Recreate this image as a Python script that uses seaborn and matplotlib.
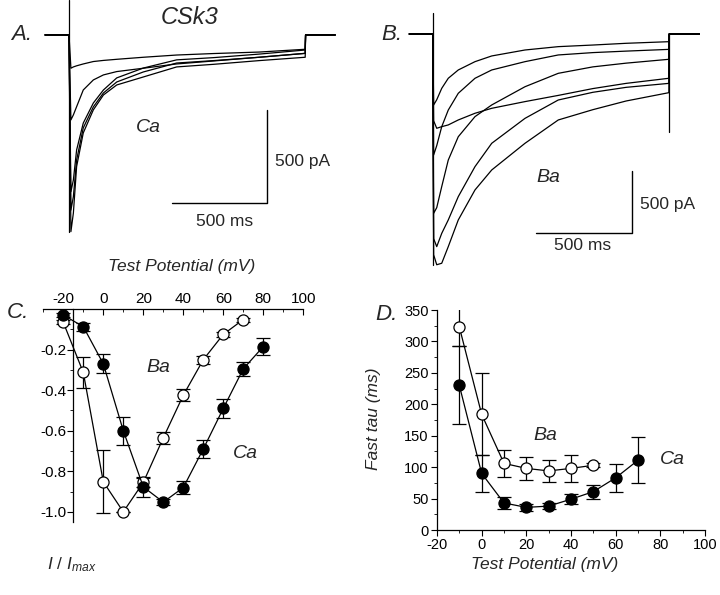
import numpy as np
import matplotlib
matplotlib.use('Agg')
import matplotlib.pyplot as plt
import seaborn as sns
from matplotlib.ticker import MultipleLocator

sns.set_style('white')
plt.rcParams['font.family'] = ['Liberation Sans', 'DejaVu Sans']
plt.rcParams['mathtext.fontset'] = 'custom'
plt.rcParams['mathtext.it'] = 'Liberation Sans:italic'
plt.rcParams['mathtext.rm'] = 'Liberation Sans'
plt.rcParams['axes.unicode_minus'] = False

ca_t = [0, 10, 23, 40, 75, 128, 181, 251, 391, 566, 760, 1000, 1242]
ca_traces = [
    [0, -179, -172, -166, -156, -143, -137, -131, -120, -108, -100, -92, -77],
    [0, -457, -430, -386, -296, -242, -215, -197, -179, -156, -140, -120, -99],
    [0, -843, -780, -619, -474, -366, -296, -231, -178, -134, -122, -103, -81],
    [0, -942, -870, -673, -500, -387, -312, -253, -199, -151, -138, -120, -99],
    [0, -1058, -958, -708, -527, -403, -323, -269, -226, -172, -158, -138, -120],
]
ca_start, ca_stop = -126, 1400
ca_spike = 188

ba_t = [0, 5, 21, 47, 81, 133, 220, 307, 480, 653, 833, 1006, 1228]
ba_traces = [
    [0, -572, -530, -438, -357, -290, -223, -177, -129, -102, -89, -75, -62],
    [0, -975, -900, -747, -613, -478, -357, -290, -223, -169, -150, -138, -124],
    [0, -1445, -1400, -1230, -1016, -828, -666, -572, -425, -317, -265, -235, -204],
    [0, -700, -760, -747, -733, -693, -639, -599, -545, -495, -440, -398, -357],
    [0, -1650, -1714, -1607, -1499, -1311, -1069, -881, -680, -532, -470, -430, -398],
    [0, -1780, -1860, -1848, -1714, -1499, -1257, -1096, -881, -693, -610, -540, -473],
]
ba_start, ba_stop = -122, 1387
ba_spike = 166
ba_tail = -787

# --- datos: curva I-V ---
v_ca_iv = [-20, -10, 0, 10, 20, 30, 40, 50, 60, 70, 80]
ca_iv = [-0.03, -0.087, -0.27, -0.60, -0.877, -0.952, -0.88, -0.69, -0.49, -0.295, -0.185]
ca_iv_err = [0.01, 0.02, 0.047, 0.068, 0.05, 0.015, 0.033, 0.045, 0.045, 0.033, 0.04]
v_ba_iv = [-20, -10, 0, 10, 20, 30, 40, 50, 60, 70]
ba_iv = [-0.066, -0.313, -0.852, -1.0, -0.855, -0.635, -0.425, -0.25, -0.125, -0.052]
ba_iv_err = [0.01, 0.077, 0.155, 0.0, 0.02, 0.03, 0.03, 0.02, 0.012, 0.01]

# --- datos: tau rapida ---
v_ca_tau = [-10, 0, 10, 20, 30, 40, 50, 60, 70]
ca_tau = [230, 90, 43, 36, 38, 49, 61, 83, 111]
ca_tau_err = [62, 30, 9, 5, 5, 8, 11, 22, 37]
v_ba_tau = [-10, 0, 10, 20, 30, 40, 50]
ba_tau = [323, 184, 106, 98, 94, 98, 103]
ba_tau_err = [30, 65, 21, 18, 18, 21, 3]

W, H = 720, 595
fig = plt.figure(figsize=(W / 100, H / 100), dpi=100)


def px_axes(left, top, right, bottom):
    return fig.add_axes([left / W, 1 - bottom / H, (right - left) / W, (bottom - top) / H])


def ftext(x, y, s, **kw):
    fig.text(x / W, 1 - y / H, s, **kw)


def draw_traces(ax, t, traces, t0, t1, spike, tail=None):
    for tr in traces:
        x = [t0] + t + [t[-1] + 2, t1]
        y = [0] + tr + [0, 0]
        sns.lineplot(x=x, y=y, ax=ax, sort=False, estimator=None, color='k', lw=0.9)
    low = min(min(tr) for tr in traces)
    sns.lineplot(x=[0, 0], y=[spike, low], ax=ax, sort=False, estimator=None, color='k', lw=0.9)
    if tail is not None:
        sns.lineplot(x=[t[-1], t[-1]], y=[0, tail], ax=ax, sort=False, estimator=None, color='k', lw=0.9)
    ax.set_axis_off()


def scale_bar(ax, x_end, y_bot):
    ax.plot([x_end - 500, x_end, x_end], [y_bot, y_bot, y_bot + 500], color='k', lw=1)


# A. Ca
axA = px_axes(40, 0, 340, 240)
draw_traces(axA, ca_t, ca_traces, ca_start, ca_stop, ca_spike)
axA.set_xlim(-152.5, 1425)
axA.set_ylim(-1103, 188)
scale_bar(axA, 1041, -904)
ftext(22, 35, 'A.', fontsize=16, style='italic', ha='center', va='center')
ftext(190, 17, 'CSk3', fontsize=17, style='italic', ha='center', va='center')
ftext(148, 127, 'Ca', fontsize=14, style='italic', ha='center', va='center')
ftext(275, 162, '500 pA', fontsize=12.5, ha='left', va='center')
ftext(225, 222, '500 ms', fontsize=12.5, ha='center', va='center')

# B. Ba
axB = px_axes(400, 0, 705, 280)
draw_traces(axB, ba_t, ba_traces, ba_start, ba_stop, ba_spike, ba_tail)
axB.set_xlim(-170, 1416)
axB.set_ylim(-1983, 274)
scale_bar(axB, 1035, -1606)
ftext(392, 34, 'B.', fontsize=16, style='italic', ha='center', va='center')
ftext(548, 178, 'Ba', fontsize=14, style='italic', ha='center', va='center')
ftext(640, 205, '500 pA', fontsize=12.5, ha='left', va='center')
ftext(583, 245, '500 ms', fontsize=12.5, ha='center', va='center')


def series(ax, x, y, err, filled):
    ax.errorbar(x, y, yerr=err, fmt='none', ecolor='k', elinewidth=0.9, capsize=5, capthick=0.9, zorder=2)
    sns.lineplot(x=x, y=y, ax=ax, sort=False, estimator=None, color='k', lw=0.9,
                 marker='o', markersize=8, markeredgecolor='k', markeredgewidth=0.9,
                 markerfacecolor='k' if filled else 'white', zorder=3, clip_on=False)


# C. I-V
axC = px_axes(43.3, 309, 303.3, 522)
series(axC, v_ba_iv, ba_iv, ba_iv_err, False)
series(axC, v_ca_iv, ca_iv, ca_iv_err, True)
axC.set_xlim(-30, 100)
axC.set_ylim(-1.05, 0)
for s in ['bottom', 'right']:
    axC.spines[s].set_visible(False)
axC.spines['left'].set_position(('data', -15))
for s in ['top', 'left']:
    axC.spines[s].set_color('k')
    axC.spines[s].set_linewidth(0.9)
axC.xaxis.tick_top()
axC.xaxis.set_major_locator(MultipleLocator(20))
axC.xaxis.set_minor_locator(MultipleLocator(10))
axC.set_yticks([-0.2, -0.4, -0.6, -0.8, -1.0])
axC.set_yticklabels(['-0.2', '-0.4', '-0.6', '-0.8', '-1.0'])
axC.yaxis.set_minor_locator(MultipleLocator(0.1))
axC.tick_params(axis='x', which='both', direction='in', top=True, bottom=False, labelsize=11, pad=2, colors='k')
axC.tick_params(axis='x', which='major', length=4)
axC.tick_params(axis='x', which='minor', length=2)
axC.tick_params(axis='y', which='both', direction='out', left=True, labelsize=11, pad=1, colors='k')
axC.tick_params(axis='y', which='major', length=4)
axC.tick_params(axis='y', which='minor', length=2)
axC.set_xlabel('')
axC.set_ylabel('')
ftext(182, 266, 'Test Potential (mV)', fontsize=12.5, style='italic', ha='center', va='center')
ftext(18, 312, 'C.', fontsize=16, style='italic', ha='center', va='center')
ftext(158, 368, 'Ba', fontsize=14, style='italic', ha='center', va='center')
ftext(245, 453, 'Ca', fontsize=14, style='italic', ha='center', va='center')
ftext(72, 565, r'$I\ /\ I_{max}$', fontsize=12.5, ha='center', va='center')

# D. tau rapida
axD = px_axes(437, 310, 705, 530)
series(axD, v_ba_tau, ba_tau, ba_tau_err, False)
series(axD, v_ca_tau, ca_tau, ca_tau_err, True)
axD.set_xlim(-20, 100)
axD.set_ylim(0, 350)
sns.despine(ax=axD)
for s in ['bottom', 'left']:
    axD.spines[s].set_color('k')
    axD.spines[s].set_linewidth(0.9)
axD.xaxis.set_major_locator(MultipleLocator(20))
axD.xaxis.set_minor_locator(MultipleLocator(10))
axD.yaxis.set_major_locator(MultipleLocator(50))
axD.yaxis.set_minor_locator(MultipleLocator(25))
axD.tick_params(which='both', direction='out', bottom=True, left=True, labelsize=10.5, colors='k')
axD.tick_params(which='major', length=4, pad=2)
axD.tick_params(which='minor', length=2)
axD.set_xlabel('')
axD.set_ylabel('')
ftext(545, 565, 'Test Potential (mV)', fontsize=12.5, style='italic', ha='center', va='center')
ftext(373, 419, 'Fast tau (ms)', fontsize=12.5, style='italic', ha='center', va='center', rotation=90)
ftext(386, 315, 'D.', fontsize=16, style='italic', ha='center', va='center')
ftext(545, 435, 'Ba', fontsize=14, style='italic', ha='center', va='center')
ftext(672, 460, 'Ca', fontsize=14, style='italic', ha='center', va='center')

fig.savefig('out.png', dpi=100)
